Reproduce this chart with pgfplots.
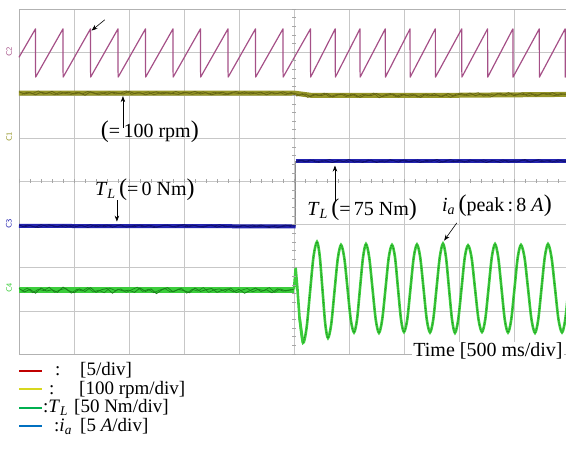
\documentclass[border=0pt]{standalone}
\usepackage{pgfplots}
\pgfplotsset{compat=1.18}
\usepackage{fontspec}
\setmainfont{Liberation Serif}
\usetikzlibrary{arrows.meta}
\definecolor{saw}{RGB}{165,80,135}
\definecolor{oliveA}{RGB}{150,150,40}
\definecolor{oliveB}{RGB}{100,100,20}
\definecolor{blueA}{RGB}{35,35,175}
\definecolor{blueB}{RGB}{15,15,110}
\definecolor{greenA}{RGB}{60,205,60}
\definecolor{greenB}{RGB}{25,130,25}
\definecolor{lred}{RGB}{192,0,0}
\definecolor{lyel}{RGB}{215,215,30}
\definecolor{lgrn}{RGB}{0,176,80}
\definecolor{lblu}{RGB}{0,112,192}
\newcommand{\bp}[1]{{\fontsize{24}{24}\selectfont #1}}
\newcommand{\TL}{\textit{T}\textsubscript{\textit{L}}}
\newcommand{\ia}{\textit{i}\textsubscript{\textit{a}}}
\begin{document}
\begin{tikzpicture}[x=1pt,y=1pt]
\begin{axis}[
  at={(19pt,99pt)}, anchor=south west, scale only axis,
  width=550pt, height=345pt,
  xmin=0, xmax=10, ymin=0, ymax=8,
  xtick={0,...,10}, ytick={0,...,8},
  xticklabels={}, yticklabels={},
  major tick length=0pt,
  grid=major, major grid style={draw=black!22, line width=0.6pt},
  axis line style={draw=black!30, line width=0.8pt},
  clip=false,
  font=\fontsize{20}{20}\selectfont,
]
% sawtooth (angle)
\addplot[saw, line width=1.2pt, line join=round] coordinates {
(0,6.88)(0.30,7.54)(0.302,6.42)(0.80,7.54)(0.802,6.42)(1.30,7.54)(1.302,6.42)(1.80,7.54)(1.802,6.42)(2.30,7.54)(2.302,6.42)(2.80,7.54)(2.802,6.42)(3.30,7.54)(3.302,6.42)(3.80,7.54)(3.802,6.42)(4.30,7.54)(4.302,6.42)(4.80,7.54)(4.802,6.42)(5.30,7.54)(5.302,6.42)(5.75,7.54)(5.752,6.42)(6.20,7.54)(6.202,6.42)(6.66,7.54)(6.662,6.42)(7.11,7.54)(7.112,6.42)(7.57,7.54)(7.572,6.42)(8.05,7.54)(8.052,6.42)(8.52,7.54)(8.522,6.42)(8.98,7.54)(8.982,6.42)(9.46,7.54)(9.462,6.42)(9.93,7.54)(9.932,6.42)(10.0,6.58)};
% speed band
\addplot[oliveA, line width=5pt] coordinates {(0,6.05)(5.0,6.05)(5.3,6.0)(8.0,6.0)(10,6.02)};
\addplot[oliveB, line width=0.8pt] coordinates {
(0.0,6.08)(0.1,6.03)(0.2,6.06)(0.3,6.01)(0.4,6.07)(0.5,6.04)(0.6,6.09)(0.7,6.02)(0.8,6.05)(0.9,6.07)
(1.0,6.03)(1.1,6.06)(1.2,6.00)(1.3,6.08)(1.4,6.04)(1.5,6.06)(1.6,6.02)(1.7,6.07)(1.8,6.05)(1.9,6.03)
(2.0,6.09)(2.1,6.04)(2.2,6.06)(2.3,6.01)(2.4,6.05)(2.5,6.08)(2.6,6.03)(2.7,6.06)(2.8,6.04)(2.9,6.02)
(3.0,6.07)(3.1,6.05)(3.2,6.09)(3.3,6.03)(3.4,6.06)(3.5,6.01)(3.6,6.05)(3.7,6.07)(3.8,6.02)(3.9,6.06)
(4.0,6.04)(4.1,6.08)(4.2,6.03)(4.3,6.05)(4.4,6.07)(4.5,6.01)(4.6,6.06)(4.7,6.04)(4.8,6.08)(4.9,6.03)
(5.0,6.05)(5.1,6.00)(5.2,6.03)(5.3,5.97)(5.4,6.02)(5.5,5.99)(5.6,6.04)(5.7,5.96)(5.8,6.01)(5.9,6.03)
(6.0,5.98)(6.1,6.02)(6.2,5.95)(6.3,6.01)(6.4,5.99)(6.5,6.04)(6.6,5.97)(6.7,6.00)(6.8,6.03)(6.9,5.96)
(7.0,6.02)(7.1,5.98)(7.2,6.01)(7.3,5.95)(7.4,6.03)(7.5,5.99)(7.6,6.00)(7.7,5.97)(7.8,6.04)(7.9,5.98)
(8.0,6.02)(8.1,6.00)(8.2,6.05)(8.3,5.99)(8.4,6.03)(8.5,6.01)(8.6,5.97)(8.7,6.04)(8.8,6.00)(8.9,6.06)
(9.0,5.99)(9.1,6.03)(9.2,6.01)(9.3,6.05)(9.4,5.98)(9.5,6.04)(9.6,6.02)(9.7,6.06)(9.8,6.00)(9.9,6.03)(10.0,6.02)};
\addplot[oliveB, line width=0.6pt] coordinates {
(0.05,6.02)(0.15,6.07)(0.25,6.04)(0.35,6.10)(0.45,6.03)(0.55,6.06)(0.65,6.01)(0.75,6.08)(0.85,6.04)(0.95,6.02)
(1.05,6.07)(1.15,6.03)(1.25,6.09)(1.35,6.05)(1.45,6.01)(1.55,6.06)(1.65,6.08)(1.75,6.03)(1.85,6.05)(1.95,6.10)
(2.05,6.02)(2.15,6.06)(2.25,6.04)(2.35,6.08)(2.45,6.01)(2.55,6.05)(2.65,6.07)(2.75,6.03)(2.85,6.09)(2.95,6.04)
(3.05,6.06)(3.15,6.02)(3.25,6.05)(3.35,6.08)(3.45,6.03)(3.55,6.07)(3.65,6.04)(3.75,6.01)(3.85,6.06)(3.95,6.09)
(4.05,6.03)(4.15,6.05)(4.25,6.07)(4.35,6.02)(4.45,6.04)(4.55,6.08)(4.65,6.03)(4.75,6.06)(4.85,6.01)(4.95,6.07)
(5.05,5.98)(5.15,6.04)(5.25,5.95)(5.35,6.02)(5.45,5.99)(5.55,6.05)(5.65,5.96)(5.75,6.01)(5.85,6.03)(5.95,5.97)
(6.05,6.03)(6.15,5.96)(6.25,6.02)(6.35,5.99)(6.45,6.05)(6.55,5.94)(6.65,6.01)(6.75,6.04)(6.85,5.97)(6.95,6.02)
(7.05,5.99)(7.15,6.03)(7.25,5.96)(7.35,6.02)(7.45,5.98)(7.55,6.04)(7.65,5.97)(7.75,6.01)(7.85,5.95)(7.95,6.03)
(8.05,6.04)(8.15,5.99)(8.25,6.02)(8.35,6.06)(8.45,5.98)(8.55,6.03)(8.65,6.00)(8.75,6.05)(8.85,5.99)(8.95,6.04)
(9.05,6.01)(9.15,6.06)(9.25,5.98)(9.35,6.03)(9.45,6.00)(9.55,6.05)(9.65,6.02)(9.75,5.99)(9.85,6.04)(9.95,6.01)};
% load torque
\addplot[black!45, line width=0.7pt] coordinates {(5.03,2.97)(5.03,4.47)};
\addplot[blueA, line width=4pt] coordinates {(0,2.97)(5.03,2.96)};
\addplot[blueA, line width=4pt] coordinates {(5.03,4.47)(10,4.47)};
\addplot[blueB, line width=0.8pt] coordinates {
(0.0,2.99)(0.1,2.95)(0.2,2.98)(0.3,2.94)(0.4,3.00)(0.5,2.96)(0.6,2.98)(0.7,2.95)(0.8,2.99)(0.9,2.97)
(1.0,2.94)(1.1,2.98)(1.2,2.96)(1.3,3.00)(1.4,2.95)(1.5,2.97)(1.6,2.99)(1.7,2.94)(1.8,2.98)(1.9,2.96)
(2.0,2.97)(2.1,2.95)(2.2,2.99)(2.3,2.96)(2.4,2.98)(2.5,2.94)(2.6,2.97)(2.7,2.99)(2.8,2.95)(2.9,2.98)
(3.0,3.00)(3.1,2.96)(3.2,2.98)(3.3,2.95)(3.4,2.97)(3.5,2.99)(3.6,2.94)(3.7,2.98)(3.8,2.96)(3.9,2.97)
(4.0,2.95)(4.1,2.98)(4.2,2.94)(4.3,2.96)(4.4,2.99)(4.5,2.95)(4.6,2.97)(4.7,2.93)(4.8,2.96)(4.9,2.98)(5.0,2.97)(5.03,2.97)};
\addplot[blueB, line width=0.6pt] coordinates {
(0.05,2.95)(0.15,2.99)(0.25,2.96)(0.35,2.93)(0.45,2.98)(0.55,3.00)(0.65,2.95)(0.75,2.97)(0.85,2.94)(0.95,2.99)
(1.05,2.96)(1.15,2.98)(1.25,2.93)(1.35,2.97)(1.45,2.99)(1.55,2.95)(1.65,2.98)(1.75,2.96)(1.85,3.00)(1.95,2.94)
(2.05,2.97)(2.15,2.99)(2.25,2.95)(2.35,2.98)(2.45,2.93)(2.55,2.96)(2.65,2.99)(2.75,2.97)(2.85,2.94)(2.95,2.98)
(3.05,2.95)(3.15,2.99)(3.25,2.96)(3.35,2.94)(3.45,2.98)(3.55,2.97)(3.65,3.00)(3.75,2.95)(3.85,2.97)(3.95,2.94)
(4.05,2.98)(4.15,2.96)(4.25,2.99)(4.35,2.95)(4.45,2.97)(4.55,2.93)(4.65,2.98)(4.75,2.96)(4.85,2.99)(4.95,2.95)};
\addplot[blueB, line width=0.8pt] coordinates {
(5.04,4.47)(5.1,4.49)(5.2,4.46)(5.3,4.50)(5.4,4.45)(5.5,4.48)(5.6,4.47)(5.7,4.44)(5.8,4.49)(5.9,4.46)
(6.0,4.51)(6.1,4.45)(6.2,4.48)(6.3,4.46)(6.4,4.50)(6.5,4.44)(6.6,4.48)(6.7,4.47)(6.8,4.49)(6.9,4.45)
(7.0,4.50)(7.1,4.46)(7.2,4.48)(7.3,4.44)(7.4,4.49)(7.5,4.47)(7.6,4.51)(7.7,4.45)(7.8,4.48)(7.9,4.46)
(8.0,4.49)(8.1,4.45)(8.2,4.50)(8.3,4.47)(8.4,4.48)(8.5,4.44)(8.6,4.49)(8.7,4.46)(8.8,4.50)(8.9,4.45)
(9.0,4.48)(9.1,4.47)(9.2,4.51)(9.3,4.45)(9.4,4.49)(9.5,4.46)(9.6,4.48)(9.7,4.45)(9.8,4.50)(9.9,4.47)(10.0,4.49)};
\addplot[blueB, line width=0.6pt] coordinates {
(5.05,4.45)(5.15,4.49)(5.25,4.46)(5.35,4.50)(5.45,4.44)(5.55,4.48)(5.65,4.51)(5.75,4.46)(5.85,4.48)(5.95,4.45)
(6.05,4.49)(6.15,4.47)(6.25,4.44)(6.35,4.50)(6.45,4.46)(6.55,4.48)(6.65,4.45)(6.75,4.51)(6.85,4.47)(6.95,4.49)
(7.05,4.46)(7.15,4.48)(7.25,4.50)(7.35,4.45)(7.45,4.47)(7.55,4.49)(7.65,4.44)(7.75,4.48)(7.85,4.51)(7.95,4.46)
(8.05,4.48)(8.15,4.45)(8.25,4.49)(8.35,4.47)(8.45,4.50)(8.55,4.46)(8.65,4.48)(8.75,4.44)(8.85,4.49)(8.95,4.47)
(9.05,4.45)(9.15,4.50)(9.25,4.46)(9.35,4.48)(9.45,4.51)(9.55,4.47)(9.65,4.49)(9.75,4.45)(9.85,4.48)(9.95,4.46)};
% phase current
\addplot[greenA, line width=6pt] coordinates {(0,1.48)(5.0,1.48)};
\addplot[greenB, line width=0.8pt] coordinates {
(0.0,1.52)(0.1,1.44)(0.2,1.50)(0.3,1.41)(0.4,1.53)(0.5,1.46)(0.6,1.49)(0.7,1.43)(0.8,1.55)(0.9,1.47)
(1.0,1.42)(1.1,1.51)(1.2,1.45)(1.3,1.54)(1.4,1.43)(1.5,1.49)(1.6,1.52)(1.7,1.41)(1.8,1.50)(1.9,1.46)
(2.0,1.48)(2.1,1.43)(2.2,1.53)(2.3,1.45)(2.4,1.51)(2.5,1.40)(2.6,1.49)(2.7,1.54)(2.8,1.44)(2.9,1.50)
(3.0,1.47)(3.1,1.42)(3.2,1.53)(3.3,1.45)(3.4,1.49)(3.5,1.52)(3.6,1.43)(3.7,1.48)(3.8,1.51)(3.9,1.44)
(4.0,1.50)(4.1,1.41)(4.2,1.47)(4.3,1.53)(4.4,1.45)(4.5,1.49)(4.6,1.42)(4.7,1.51)(4.8,1.46)(4.9,1.48)(5.0,1.50)};
\addplot[greenB, line width=0.6pt] coordinates {
(0.05,1.45)(0.15,1.53)(0.25,1.42)(0.35,1.50)(0.45,1.47)(0.55,1.55)(0.65,1.43)(0.75,1.49)(0.85,1.52)(0.95,1.41)
(1.05,1.50)(1.15,1.46)(1.25,1.54)(1.35,1.44)(1.45,1.48)(1.55,1.42)(1.65,1.53)(1.75,1.47)(1.85,1.51)(1.95,1.43)
(2.05,1.49)(2.15,1.55)(2.25,1.45)(2.35,1.50)(2.45,1.42)(2.55,1.48)(2.65,1.52)(2.75,1.44)(2.85,1.47)(2.95,1.53)
(3.05,1.41)(3.15,1.50)(3.25,1.46)(3.35,1.54)(3.45,1.43)(3.55,1.49)(3.65,1.51)(3.75,1.45)(3.85,1.53)(3.95,1.42)
(4.05,1.48)(4.15,1.52)(4.25,1.44)(4.35,1.50)(4.45,1.47)(4.55,1.54)(4.65,1.43)(4.75,1.51)(4.85,1.46)(4.95,1.49)};
\addplot[greenA, line width=2.6pt, line join=round] coordinates {
(5.0,1.50)(5.03,1.99)(5.06,1.55)(5.10,0.85)(5.164,0.26)};
\addplot[greenA, line width=2.6pt, smooth] coordinates {
(5.10,0.85)(5.164,0.26)(5.228,0.60)(5.291,1.43)(5.355,2.26)(5.418,2.60)(5.468,2.27)(5.518,1.49)(5.568,0.70)(5.618,0.37)(5.677,0.69)(5.736,1.45)(5.796,2.21)(5.855,2.53)(5.914,2.23)(5.973,1.52)(6.032,0.80)(6.091,0.50)(6.146,0.80)(6.200,1.52)(6.255,2.24)(6.309,2.55)(6.368,2.24)(6.427,1.52)(6.486,0.80)(6.545,0.49)(6.604,0.80)(6.664,1.52)(6.723,2.24)(6.782,2.53)(6.837,2.24)(6.891,1.52)(6.946,0.80)(7.000,0.51)(7.059,0.80)(7.118,1.52)(7.177,2.24)(7.236,2.54)(7.295,2.24)(7.355,1.52)(7.414,0.80)(7.473,0.50)(7.532,0.80)(7.591,1.52)(7.650,2.24)(7.709,2.56)(7.764,2.24)(7.818,1.52)(7.873,0.80)(7.927,0.49)(7.986,0.80)(8.046,1.52)(8.105,2.24)(8.164,2.52)(8.228,2.24)(8.291,1.52)(8.355,0.80)(8.418,0.51)(8.477,0.80)(8.537,1.52)(8.596,2.24)(8.655,2.55)(8.714,2.24)(8.773,1.52)(8.832,0.80)(8.891,0.50)(8.950,0.80)(9.009,1.52)(9.068,2.24)(9.127,2.53)(9.191,2.24)(9.255,1.52)(9.318,0.80)(9.382,0.49)(9.441,0.80)(9.500,1.52)(9.559,2.24)(9.618,2.55)(9.682,2.24)(9.746,1.52)(9.809,0.80)(9.873,0.50)(9.932,0.80)(9.991,1.52)(10.05,2.24)};
\addplot[greenB, line width=0.5pt, dash pattern=on 1.5pt off 1pt, smooth] coordinates {
(5.164,0.26)(5.228,0.60)(5.291,1.43)(5.355,2.26)(5.418,2.60)(5.468,2.27)(5.518,1.49)(5.568,0.70)(5.618,0.37)(5.677,0.69)(5.736,1.45)(5.796,2.21)(5.855,2.53)(5.914,2.23)(5.973,1.52)(6.032,0.80)(6.091,0.50)(6.146,0.80)(6.200,1.52)(6.255,2.24)(6.309,2.55)(6.368,2.24)(6.427,1.52)(6.486,0.80)(6.545,0.49)(6.604,0.80)(6.664,1.52)(6.723,2.24)(6.782,2.53)(6.837,2.24)(6.891,1.52)(6.946,0.80)(7.000,0.51)(7.059,0.80)(7.118,1.52)(7.177,2.24)(7.236,2.54)(7.295,2.24)(7.355,1.52)(7.414,0.80)(7.473,0.50)(7.532,0.80)(7.591,1.52)(7.650,2.24)(7.709,2.56)(7.764,2.24)(7.818,1.52)(7.873,0.80)(7.927,0.49)(7.986,0.80)(8.046,1.52)(8.105,2.24)(8.164,2.52)(8.228,2.24)(8.291,1.52)(8.355,0.80)(8.418,0.51)(8.477,0.80)(8.537,1.52)(8.596,2.24)(8.655,2.55)(8.714,2.24)(8.773,1.52)(8.832,0.80)(8.891,0.50)(8.950,0.80)(9.009,1.52)(9.068,2.24)(9.127,2.53)(9.191,2.24)(9.255,1.52)(9.318,0.80)(9.382,0.49)(9.441,0.80)(9.500,1.52)(9.559,2.24)(9.618,2.55)(9.682,2.24)(9.746,1.52)(9.809,0.80)(9.873,0.50)(9.932,0.80)(9.991,1.52)};
% annotations
\draw[-{Stealth[length=6pt,width=4.5pt]}, line width=0.6pt] (axis cs:1.56,7.75) -- (axis cs:1.32,7.50);
\node at (axis cs:2.38,5.15) {\bp{(}=\,100 rpm\bp{)}};
\draw[-{Stealth[length=6pt,width=4.5pt]}, line width=0.6pt] (axis cs:1.89,5.25) -- (axis cs:1.89,5.98);
\node at (axis cs:2.29,3.82) {\TL\,\bp{(}=\,0 Nm\bp{)}};
\draw[-{Stealth[length=6pt,width=4.5pt]}, line width=0.6pt] (axis cs:1.78,3.57) -- (axis cs:1.78,3.07);
\node at (axis cs:6.24,3.34) {\TL\,\bp{(}=\,75 Nm\bp{)}};
\draw[-{Stealth[length=6pt,width=4.5pt]}, line width=0.6pt] (axis cs:5.745,3.55) -- (axis cs:5.745,4.37);
\node at (axis cs:8.69,3.43) {\ia\,\bp{(}peak\,:\,8 \textit{A}\bp{)}};
\draw[-{Stealth[length=6pt,width=4.5pt]}, line width=0.6pt] (axis cs:7.96,3.04) -- (axis cs:7.73,2.63);
\end{axis}
% center-line ticks
\foreach \i in {0,...,50} {\draw[black!35, line width=0.5pt] ({19+11*\i},270) -- ({19+11*\i},274);}
\foreach \i in {0,...,40} {\draw[black!35, line width=0.5pt] (292,{99+8.625*\i}) -- (296,{99+8.625*\i});}
% channel markers
\node[rotate=90, font=\sffamily\fontsize{8}{8}\selectfont, text=saw] at (9,401) {C2};
\node[rotate=90, font=\sffamily\fontsize{8}{8}\selectfont, text=oliveA] at (9,316) {C1};
\node[rotate=90, font=\sffamily\fontsize{8}{8}\selectfont, text=blueA] at (9,229) {C3};
\node[rotate=90, font=\sffamily\fontsize{8}{8}\selectfont, text=greenA] at (9,165) {C4};
% time label
\node[fill=white, inner sep=1pt, font=\fontsize{20}{20}\selectfont] at (488,102) {Time [500 ms/div]};
% legend
\begin{scope}[font=\fontsize{19}{19}\selectfont, every node/.style={anchor=base west, inner sep=0pt}]
\draw[lred, line width=2pt] (19,82) -- (42,82);
\node at (55,77) {:};
\node at (80,77) {[5/div]};
\draw[lyel, line width=2pt] (19,63.5) -- (42,63.5);
\node at (49,58.5) {:};
\node at (79,58.5) {[100 rpm/div]};
\draw[lgrn, line width=2pt] (19,45) -- (42,45);
\node at (43,40) {:\TL};
\node at (74,40) {[50 Nm/div]};
\draw[lblu, line width=2pt] (19,26.5) -- (42,26.5);
\node at (54,21.5) {:\ia};
\node at (80,21.5) {[5 \textit{A}/div]};
\end{scope}
\pgfresetboundingbox
\path[use as bounding box] (0,0) rectangle (566,453);
\end{tikzpicture}
\end{document}
